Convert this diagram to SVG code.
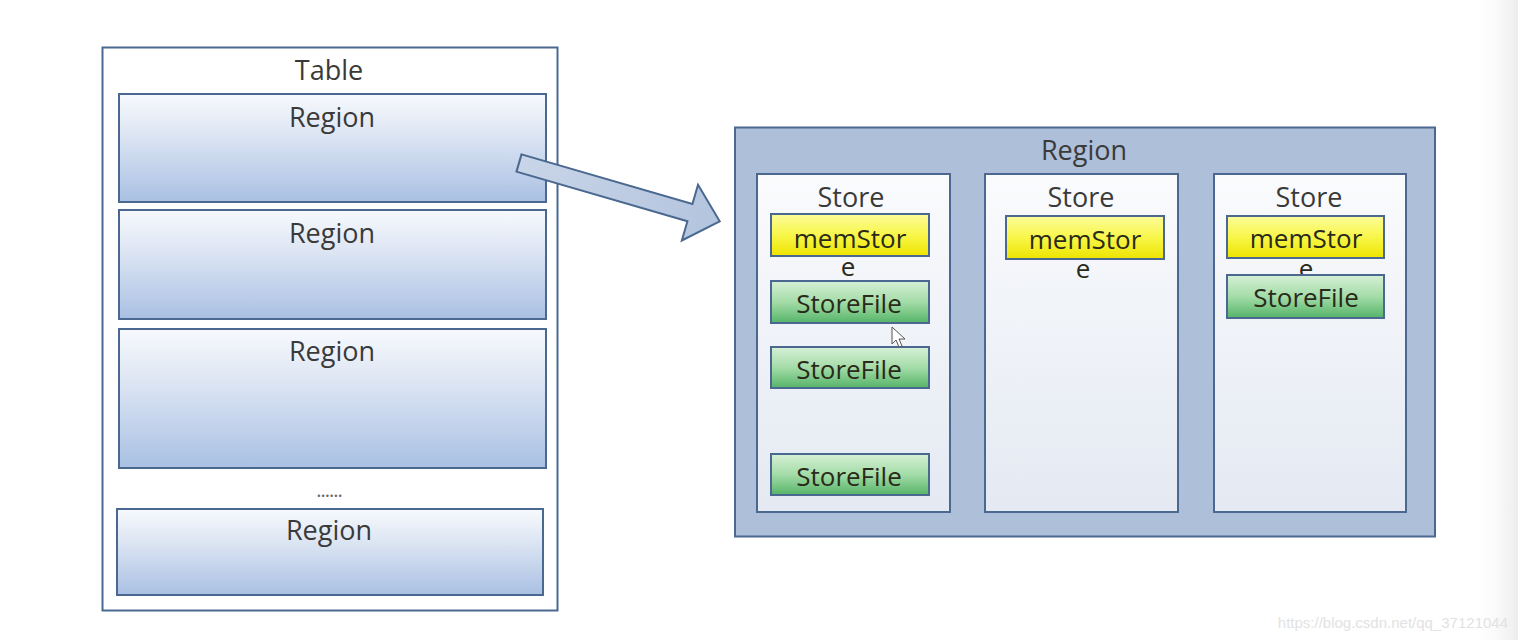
<svg xmlns="http://www.w3.org/2000/svg" width="1518" height="640" viewBox="0 0 1518 640">
<defs>
<linearGradient id="gReg" x1="0" y1="0" x2="0" y2="1"><stop offset="0" stop-color="#f7f9fd"/><stop offset="0.35" stop-color="#dfe7f4"/><stop offset="1" stop-color="#a9c0e3"/></linearGradient>
<linearGradient id="gYel" x1="0" y1="0" x2="0" y2="1"><stop offset="0" stop-color="#fcfc9a"/><stop offset="0.5" stop-color="#f8f64a"/><stop offset="1" stop-color="#eee400"/></linearGradient>
<linearGradient id="gGrn" x1="0" y1="0" x2="0" y2="1"><stop offset="0" stop-color="#d6f0d6"/><stop offset="0.5" stop-color="#a4dca8"/><stop offset="1" stop-color="#55b468"/></linearGradient>
<linearGradient id="gStore" x1="0" y1="0" x2="0" y2="1"><stop offset="0" stop-color="#fafbfd"/><stop offset="1" stop-color="#e4e9f2"/></linearGradient>
<linearGradient id="gArrow" x1="0" y1="0" x2="1" y2="0"><stop offset="0" stop-color="#c9d5e8"/><stop offset="1" stop-color="#b3c4de"/></linearGradient>
<linearGradient id="gEdge" x1="0" y1="0" x2="1" y2="0"><stop offset="0" stop-color="#ffffff" stop-opacity="0"/><stop offset="1" stop-color="#ececec"/></linearGradient>
</defs>
<style>
.t{font-family:"Open Sans","Noto Sans","DejaVu Sans",sans-serif;font-size:27px;font-weight:500;fill:#3a3a3a;text-anchor:middle}
.reg{fill:url(#gReg);stroke:#4a6890;stroke-width:2}
.st{fill:url(#gStore);stroke:#4a6890;stroke-width:2}
.mem{fill:url(#gYel);stroke:#4a6890;stroke-width:2}
.sf{fill:url(#gGrn);stroke:#4a6890;stroke-width:2}
.ink{fill:#2a2a1a;font-size:26px}
</style>
<rect width="1518" height="640" fill="#ffffff"/>
<rect x="1470" y="0" width="48" height="640" fill="url(#gEdge)"/>

<g id="table">
<rect x="102.5" y="47.5" width="455" height="563" fill="#ffffff" stroke="#4a6890" stroke-width="2"/>
<text class="t" x="329" y="80">Table</text>
</g>
<g id="region1"><rect class="reg" x="119" y="94" width="427" height="108"/><text class="t" x="332" y="127">Region</text></g>
<g id="region2"><rect class="reg" x="119" y="210" width="427" height="109"/><text class="t" x="332" y="243">Region</text></g>
<g id="region3"><rect class="reg" x="119" y="329" width="427" height="139"/><text class="t" x="332" y="361">Region</text></g>
<g id="dots"><text class="t" x="329" y="497" style="font-size:20px;fill:#666;letter-spacing:-1px">......</text></g>
<g id="region4"><rect class="reg" x="117" y="509" width="426" height="86"/><text class="t" x="329" y="540">Region</text></g>

<g id="connectors">
<polygon points="0,-9 178,-9 178,-29 209,0 178,29 178,9 0,9" transform="translate(519,163) rotate(16.2)" fill="url(#gArrow)" stroke="#4a6890" stroke-width="2" stroke-linejoin="miter"/>
</g>

<g id="regionDetail">
<rect x="735" y="127.5" width="700" height="409" fill="#aebfd9" stroke="#4a6890" stroke-width="2"/>
<text class="t" x="1084" y="160">Region</text>
</g>

<g id="store1">
<rect class="st" x="757" y="174" width="193" height="338"/>
<text class="t" x="851" y="207">Store</text>
<rect class="mem" x="771" y="214" width="158" height="42"/>
<text class="t ink" x="850" y="248">memStor</text>
<text class="t ink" x="848" y="276">e</text>
<rect class="sf" x="771" y="281" width="158" height="42"/>
<text class="t ink" x="849" y="313">StoreFile</text>
<rect class="sf" x="771" y="347" width="158" height="41"/>
<text class="t ink" x="849" y="379">StoreFile</text>
<rect class="sf" x="771" y="454" width="158" height="41"/>
<text class="t ink" x="849" y="486">StoreFile</text>
</g>

<g id="store2">
<rect class="st" x="985" y="174" width="193" height="338"/>
<text class="t" x="1081" y="207">Store</text>
<rect class="mem" x="1006" y="216" width="158" height="43"/>
<text class="t ink" x="1085" y="249">memStor</text>
<text class="t ink" x="1083" y="278">e</text>
</g>

<g id="store3">
<rect class="st" x="1214" y="174" width="192" height="338"/>
<text class="t" x="1309" y="207">Store</text>
<rect class="mem" x="1227" y="216" width="157" height="42"/>
<text class="t ink" x="1306" y="248">memStor</text>
<text class="t ink" x="1306" y="278">e</text>
<rect class="sf" x="1227" y="275" width="157" height="43"/>
<text class="t ink" x="1306" y="307">StoreFile</text>
</g>

<g id="cursor">
<polygon points="892,327 892,344 896,340 899,347 902,346 899,339 905,339" fill="#ffffff" stroke="#555" stroke-width="1"/>
</g>

<text x="1508" y="628" style="font-family:'Liberation Sans',Arial,sans-serif;font-size:15px;fill:#e2e2e2;text-anchor:end">https://blog.csdn.net/qq_37121044</text>
</svg>
